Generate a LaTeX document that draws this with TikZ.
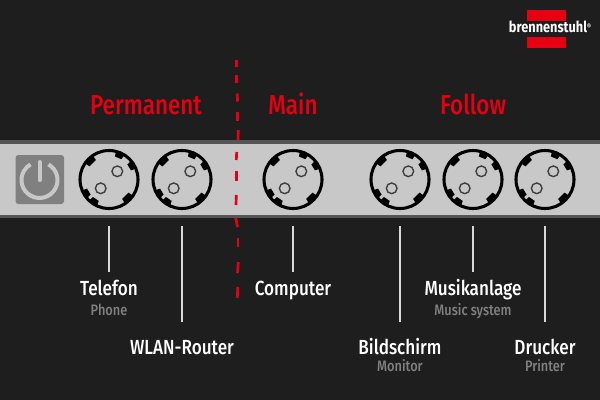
\documentclass[tikz,border=0pt]{standalone}
\usepackage{fontspec}
\setmainfont[FakeStretch=0.84,UprightFont=* Medium,BoldFont=* Bold]{Fira Sans}
\definecolor{bg}{HTML}{1E1E1E}
\definecolor{bandlight}{HTML}{C8C8C8}
\definecolor{banddark}{HTML}{555555}
\definecolor{btn}{HTML}{808080}
\definecolor{brandred}{HTML}{E60012}
\definecolor{subgrey}{HTML}{808080}
\definecolor{leader}{HTML}{D8D8D8}
\tikzset{
  x=0.75pt,y=-0.75pt,
  socketbody/.style={circle,draw=black,line width=2.3pt,minimum size=43.5pt,inner sep=0pt},
  contact/.style={circle,draw=black!75!white,line width=1.05pt,minimum size=8pt,inner sep=0pt},
  leaderline/.style={draw=leader,line width=0.9pt},
  zonelabel/.style={text=brandred,font=\fontsize{20.5}{22}\selectfont\addfontfeature{FakeStretch=0.82},inner sep=0pt,anchor=base},
  devicelabel/.style={text=white,font=\fontsize{15.3}{17}\selectfont,inner sep=0pt,anchor=base},
  sublabel/.style={text=subgrey,font=\fontsize{11.4}{13}\selectfont,inner sep=0pt,anchor=base},
  reddash/.style={draw=brandred,line width=2pt},
  pics/powersocket/.style={code={
    \node[socketbody] (-body) at (0,0) {};
    \foreach \a in {135,-45}{
      \fill[black,rotate=\a] (23,-4.5) -- (28,-5.5) -- (28,5.5) -- (23,4.5) -- cycle;
    }
    \foreach \a in {31,67,-149,-124}{
      \fill[black,rotate=\a] (23.5,-3.5) -- (28,-4.5) -- (28,4.5) -- (23.5,3.5) -- cycle;
    }
    \node[contact] (-a) at (8.3,-8.2) {};
    \node[contact] (-b) at (-8.3,8.8) {};
  }}
}
\begin{document}
\begin{tikzpicture}
\useasboundingbox (0,0) rectangle (600,400);
\fill[bg] (0,0) rectangle (600,400);
% band
\fill[banddark] (0,140) rectangle (600,218);
\fill[bandlight] (0,144) rectangle (600,214.5);
% power button
\fill[btn,rounded corners=2.2pt] (15.5,155) rectangle (64,204);
\draw[bandlight,line width=3pt] (39.5,180) ++(-60:18) arc[start angle=-60,end angle=240,radius=18];
\draw[bandlight,line width=3pt,line cap=round] (39.5,162) -- (39.5,180);
% sockets
\pic (s1) at (109,179.5) {powersocket};
\pic (s2) at (182,179.5) {powersocket};
\pic (s3) at (293,179.5) {powersocket};
\pic (s4) at (400,179.5) {powersocket};
\pic (s5) at (473,179.5) {powersocket};
\pic (s6) at (545,179.5) {powersocket};
% divider
\foreach \xa/\ya/\xb/\yb in {
 236.7/60/236.7/67, 236.7/75/236.7/82.5, 237.3/93.5/237.5/101.5, 237.8/112/237.8/121,
 238.3/130/238/140, 236.7/152/236.3/160, 236.3/171/236.3/181, 236.3/195/236/205,
 235.8/218/237.5/227, 238/238/238/247, 238.3/262/237.5/273, 237.8/287/237.3/298}{
  \draw[reddash] (\xa,\ya) -- (\xb,\yb);
}
% zone labels
\node[zonelabel] (permanent) at (146,114.5) {Permanent};
\node[zonelabel] (main) at (293,114.5) {Main};
\node[zonelabel] (follow) at (473,114.5) {Follow};
% leaders
\coordinate (l1) at (109,226); \coordinate (e1) at (109,272);
\coordinate (l2) at (182,226); \coordinate (e2) at (182,322);
\coordinate (l3) at (293,226); \coordinate (e3) at (293,272);
\coordinate (l4) at (400,226); \coordinate (e4) at (400,322);
\coordinate (l5) at (473,226); \coordinate (e5) at (473,272);
\coordinate (l6) at (545,226); \coordinate (e6) at (545,322);
\foreach \i in {1,...,6}{\draw[leaderline] (l\i) -- (e\i);}
% labels
\node[devicelabel] (telefon) at (109,295) {Telefon};
\node[sublabel] (phone) at (109,315) {Phone};
\node[devicelabel] (wlan) at (182,354) {WLAN-Router};
\node[devicelabel] (computer) at (293,295) {Computer};
\node[devicelabel] (bildschirm) at (400,354) {Bildschirm};
\node[sublabel] (monitor) at (400,371) {Monitor};
\node[devicelabel] (musik) at (473,295) {Musikanlage};
\node[sublabel] (music) at (473,315) {Music system};
\node[devicelabel] (drucker) at (545,354) {Drucker};
\node[sublabel] (printer) at (545,371) {Printer};
% logo
\fill[brandred] (527.3,10) rectangle (566,21);
\fill[brandred] (527.3,36.7) rectangle (566,48);
\node[text=white,font=\fontsize{11.4}{12}\bfseries\selectfont,inner sep=0pt,anchor=base] (brand) at (550,32.8) {brennenstuhl\raisebox{2.8pt}{\fontsize{5.5}{5.5}\selectfont®}};
\end{tikzpicture}
\end{document}
